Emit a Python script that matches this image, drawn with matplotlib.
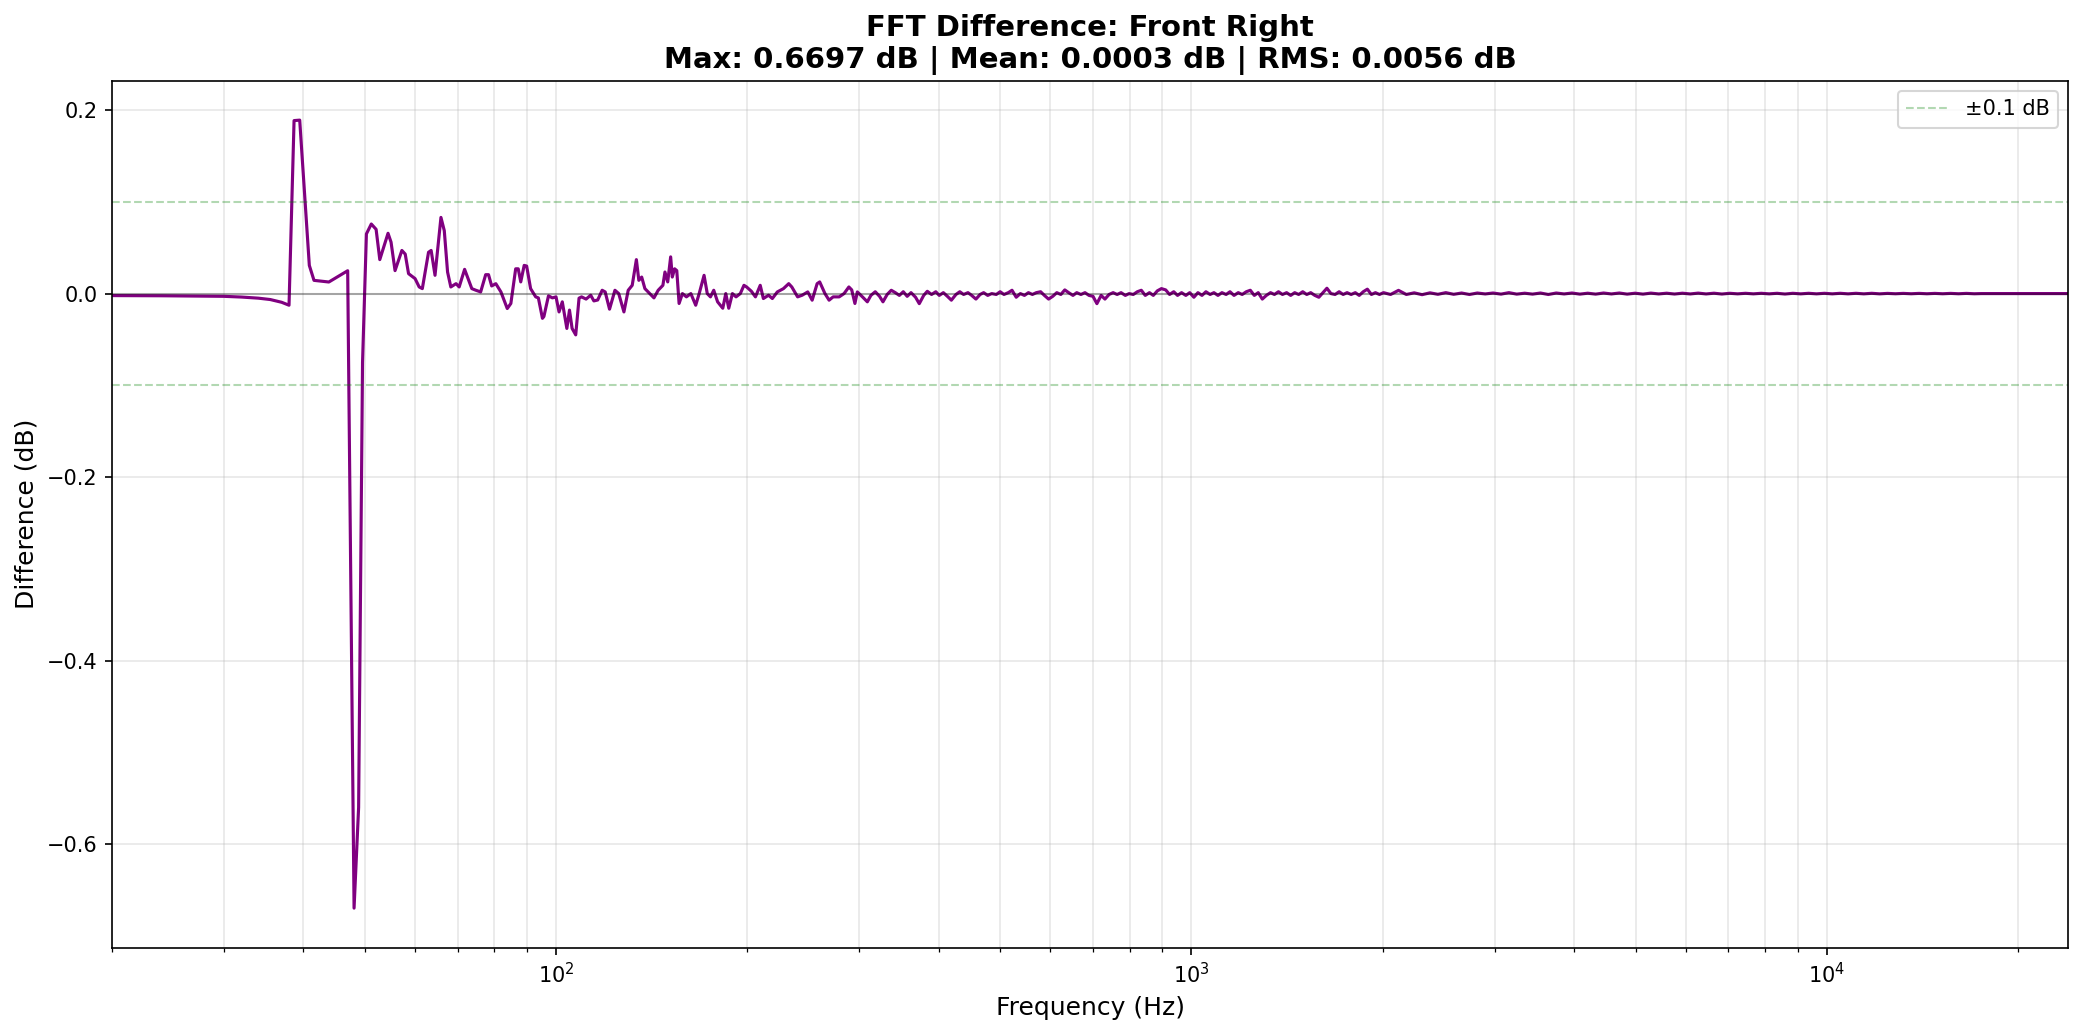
import numpy as np
import matplotlib
matplotlib.use("Agg")
import matplotlib.pyplot as plt

# low band, read point by point (Hz, dB)
freq_low = [20.0, 24.0, 27.0, 30.0, 32.0, 34.0, 35.5, 37.0, 38.0, 38.7, 39.5, 40.2, 40.9, 41.6,
            43.9, 47.0,
            48.1, 48.9, 49.6, 50.3, 51.2, 52.1, 52.8, 54.4, 55.0, 55.8, 57.2, 57.9, 58.6, 60.0,
            60.9, 61.6, 63.0, 63.6, 64.5, 65.9, 66.7, 67.5, 68.3, 69.6, 70.4, 71.8, 73.7, 74.8,
            76.1, 77.5, 78.3, 79.2, 80.4, 81.9, 83.8, 84.9, 86.4, 87.2, 88.0, 89.1, 89.9, 91.2,
            92.9, 93.8, 95.2, 95.7, 97.3, 98.7, 100.0, 101.1, 102.3, 104.0, 105.0, 106.0, 107.4,
            108.7, 109.7, 111.5, 113.4, 114.7, 116.3, 118.2, 119.5, 121.4, 123.8, 125.5, 127.9,
            129.9, 131.8, 133.8, 135.0, 136.4, 138.0, 140.4, 142.6, 144.8, 147.3, 148.4, 149.9,
            151.5, 152.4, 153.7, 154.9, 156.2, 158.1, 160.4, 163.0, 165.9, 168.0, 171.0, 173.0,
            175.0, 177.1, 179.6, 183.0, 185.0, 187.0, 189.5, 192.0, 195.0, 197.6, 199.5, 203.0,
            206.0, 209.6, 212.0, 216.0, 219.0, 223.0, 228.0, 232.4, 235.0, 240.0, 244.0, 249.0,
            253.0, 257.6, 260.0, 265.0, 269.0, 273.0, 279.0, 284.0, 289.0, 292.0, 295.4, 298.0]
diff_low = [-0.0022, -0.0024, -0.0027, -0.003, -0.0038, -0.005, -0.0065, -0.0095, -0.0127,
            0.1885, 0.189, 0.11,
            0.0307, 0.0144, 0.0126, 0.0249, -0.6697, -0.56, -0.075, 0.065, 0.0758, 0.070, 0.037,
            0.0657, 0.056, 0.025, 0.047, 0.043, 0.0217, 0.0163, 0.0072, 0.0054, 0.045, 0.047,
            0.0199, 0.083, 0.0686, 0.0235, 0.0072, 0.0108, 0.0072, 0.0264, 0.0054, 0.0036, 0.0018,
            0.0206, 0.0206, 0.0083, 0.0108, 0.0018, -0.0163, -0.0108, 0.027, 0.027, 0.0127, 0.0307,
            0.030, 0.0054, -0.0036, -0.0047, -0.027, -0.025, -0.0025, -0.0047, -0.0036, -0.020,
            -0.009, -0.038, -0.018, -0.038, -0.045, -0.005, -0.0036, -0.006, -0.0018, -0.008,
            -0.007, 0.0036, 0.0018, -0.017, 0.0036, 0.0, -0.020, 0.0036, 0.009, 0.037, 0.0144,
            0.018, 0.0054, 0.0, -0.0047, 0.0036, 0.009, 0.0235, 0.0127, 0.040, 0.018, 0.027, 0.025,
            -0.0108, 0.0, -0.0036, 0.0, -0.0127, 0.0, 0.0199, 0.0, -0.0036, 0.0036, -0.009, -0.016,
            0.0, -0.016, 0.0, -0.0036, 0.0, 0.009, 0.0072, 0.0025, -0.0036, 0.009, -0.0054,
            -0.0018, -0.0054, 0.0018, 0.0054, 0.0108, 0.0072, -0.0036, -0.0018, 0.0018, -0.0072,
            0.0108, 0.0127, 0.0, -0.0072, -0.0036, -0.0036, 0.0, 0.0072, 0.004, -0.0108, 0.0018]

# mid band
freq_mid = [304, 309, 313, 318, 323, 327, 332, 337, 342, 347, 352, 357, 362, 368, 373, 379, 384,
            390, 396, 401, 407, 413, 419, 426, 432, 438, 445, 451, 458, 465, 471, 478, 485, 493,
            500, 507, 515, 522, 530, 538, 546, 554, 562, 570, 579, 587, 596, 605, 614, 623, 632,
            641, 651, 660, 670, 680, 690, 700, 710, 721, 731, 742, 753, 764, 775, 787, 798, 810,
            822, 834, 846, 859, 871, 884, 897, 911, 924, 938, 951, 965, 980, 994, 1009, 1024, 1039,
            1054, 1070, 1085, 1101, 1117, 1134, 1150, 1167, 1185, 1202, 1220, 1238, 1256, 1274,
            1293, 1312, 1332, 1351, 1371, 1391, 1412, 1433, 1454, 1475, 1497, 1519, 1541, 1564,
            1587, 1611, 1634, 1658, 1683, 1708, 1733, 1758, 1784, 1811, 1837, 1864, 1892, 1920,
            1948, 1977, 2006]
diff_mid = [-0.004, -0.009, -0.002, 0.002, -0.003, -0.009, -0.001, 0.0036, 0.001, -0.002, 0.002,
            -0.003, 0.001, -0.004, -0.011, -0.002, 0.0025, -0.001, 0.002, -0.002, 0.001, -0.003,
            -0.0072, -0.001, 0.002, -0.001, 0.001, -0.002, -0.006, -0.001, 0.001, -0.002, 0.0,
            -0.001, 0.002, -0.001, 0.001, 0.0036, -0.004, 0.0, -0.002, 0.001, -0.001, 0.001, 0.002,
            -0.002, -0.006, -0.003, 0.001, -0.001, 0.004, 0.001, -0.002, 0.001, -0.001, 0.001,
            -0.002, -0.003, -0.011, -0.002, -0.006, -0.001, 0.001, -0.001, 0.001, -0.002, 0.0,
            -0.001, 0.002, 0.0036, -0.002, 0.001, -0.002, 0.003, 0.0054, 0.004, -0.001, 0.002,
            -0.002, 0.001, -0.002, 0.001, -0.004, 0.001, -0.002, 0.002, -0.001, 0.001, -0.002,
            0.001, -0.001, 0.002, -0.002, 0.001, -0.001, 0.002, 0.0036, -0.002, 0.001, -0.006,
            -0.002, 0.001, -0.001, 0.002, -0.001, 0.001, -0.002, 0.001, -0.001, 0.002, -0.001,
            0.001, -0.002, -0.004, 0.001, 0.0058, 0.0, -0.001, 0.002, -0.001, 0.001, -0.001, 0.001,
            -0.002, 0.002, 0.0048, -0.001, 0.001, -0.001, 0.001]

# high band, almost flat
freq_high = [2058, 2118, 2179, 2242, 2307, 2374, 2443, 2514, 2587, 2662, 2739, 2818, 2900, 2984,
             3071, 3160, 3251, 3346, 3443, 3543, 3645, 3751, 3860, 3972, 4087, 4205, 4327, 4453,
             4582, 4715, 4851, 4992, 5137, 5286, 5439, 5597, 5759, 5926, 6098, 6275, 6457, 6644,
             6837, 7035, 7239, 7449, 7665, 7887, 8116, 8351, 8594, 8843, 9099, 9363, 9635, 9914,
             10202, 10498, 10802, 11115, 11438, 11770, 12111, 12462, 12824, 13195, 13578, 13972,
             14377, 14794, 15223, 15664, 16119, 16586, 17067, 17500, 20000, 24000]
diff_high = [-0.001, 0.0035, -0.001, 0.0008, -0.0012, 0.0008, -0.0008, 0.001, -0.0008, 0.0006,
             -0.001, 0.0006, -0.0004, 0.0006, -0.0006, 0.001, -0.0006, 0.0004, -0.0006, 0.0006,
             -0.001, 0.0006, -0.0004, 0.0006, -0.0006, 0.0004, -0.0006, 0.0006, -0.0004, 0.0006,
             -0.0006, 0.0004, -0.0006, 0.0005, -0.0004, 0.0004, -0.0005, 0.0004, -0.0004, 0.0005,
             -0.0004, 0.0004, -0.0005, 0.0003, -0.0003, 0.0003, -0.0003, 0.0003, -0.0003, 0.0003,
             -0.0005, 0.0003, -0.0003, 0.0003, -0.0003, 0.0003, -0.0003, 0.0003, -0.0003, 0.0003,
             -0.0003, 0.0003, -0.0003, 0.0002, -0.0002, 0.0002, -0.0002, 0.0002, -0.0002, 0.0002,
             -0.0002, 0.0002, -0.0002, 0.0002, -0.0002, 0.0, 0.0, 0.0]

freqs = np.array(freq_low + freq_mid + freq_high)
diff = np.array(diff_low + diff_mid + diff_high)

fig, ax = plt.subplots(figsize=(2084 / 150, 1035 / 150), dpi=150)
fig.subplots_adjust(left=0.0537, right=0.9925, top=0.922, bottom=0.0845)

ax.semilogx(freqs, diff, color="purple", linewidth=1.5)
ax.axhline(0, color="black", linewidth=1, alpha=0.3)
ax.axhline(0.1, color="green", linestyle="--", linewidth=1, alpha=0.3, label="±0.1 dB")
ax.axhline(-0.1, color="green", linestyle="--", linewidth=1, alpha=0.3)

ax.set_xlim(20, 24000)
ax.set_xlabel("Frequency (Hz)", fontsize=12)
ax.set_ylabel("Difference (dB)", fontsize=12)
ax.set_title("FFT Difference: Front Right\nMax: 0.6697 dB | Mean: 0.0003 dB | RMS: 0.0056 dB",
             fontsize=14, fontweight="bold")
ax.grid(True, which="both", alpha=0.3)
ax.legend(loc="upper right")

plt.savefig("out.png", dpi=150)
